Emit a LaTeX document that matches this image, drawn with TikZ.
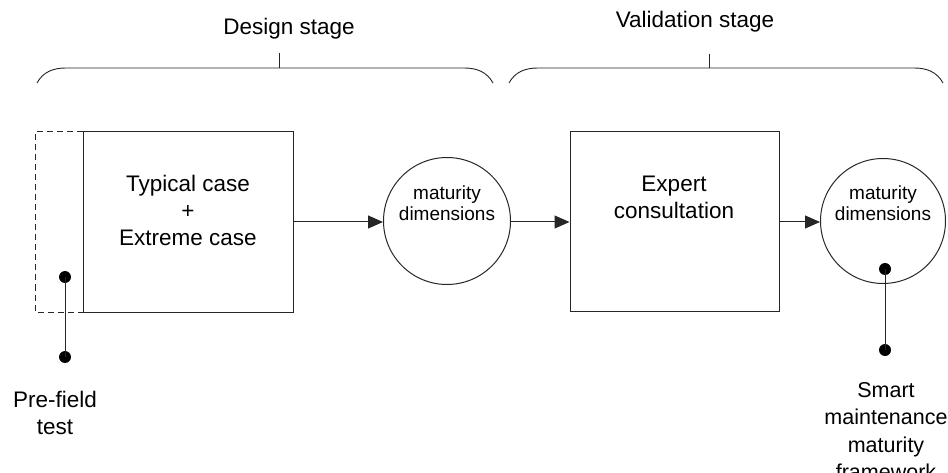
\documentclass[tikz,border=0pt]{standalone}
\usepackage{fontspec}
\setmainfont{Liberation Sans}
\usetikzlibrary{arrows.meta}
\begin{document}
\begin{tikzpicture}[x=1pt,y=-1pt,
  line width=1pt, draw=black!85,
  bigtext/.style={font=\fontsize{22.5}{27}\selectfont, align=center, inner sep=0pt},
  fwtext/.style={font=\fontsize{21.5}{27.3}\selectfont, align=center, inner sep=0pt},
  smalltext/.style={font=\fontsize{19}{21.5}\selectfont, align=center, inner sep=0pt},
  stagebox/.style={draw, rectangle, inner sep=0pt},
  dimcircle/.style={draw, circle, minimum size=127pt, inner sep=0pt},
  flow/.style={-{Triangle[length=15pt,width=13pt]}},
  dot/.style={circle, fill=black, inner sep=0pt, minimum size=12pt},
  brace/.style={line width=0.9pt}
]
\useasboundingbox (0,0) rectangle (948,473);

% boxes
\node[stagebox, minimum width=210pt, minimum height=180pt] (box1) at (188,222) {};
\node[stagebox, minimum width=209pt, minimum height=179pt] (box2) at (674.5,221.5) {};
\node[dimcircle] (c1) at (447,221) {};
\node[dimcircle, minimum size=125pt] (c2) at (883,221) {};

% dashed pre-field box
\draw[dashed, dash pattern=on 6pt off 4pt] (box1.north west) -- ++(-47,0) |- (box1.south west);

% texts
\node[bigtext] (t1) at (188,210) {Typical case\\+\\Extreme case};
\node[bigtext] (t2) at (674,197) {Expert\\consultation};
\node[smalltext] (t3) at (447,203) {maturity\\dimensions};
\node[smalltext] (t4) at (883,203) {maturity\\dimensions};

% arrows
\draw[flow] (box1.east |- 0,222) -- (c1.west |- 0,222);
\draw[flow] (c1.east |- 0,222) -- (box2.west |- 0,222);
\draw[flow] (box2.east |- 0,222) -- (c2.west |- 0,222);

% pre-field test connector
\node[dot] (d1) at (65,277) {};
\node[dot] (d2) at (65,357) {};
\draw (d1.center) -- (d2.center);
\node[bigtext] (pf) at (55,413) {Pre-field\\test};

% framework connector
\node[dot] (d3) at (885,269) {};
\node[dot] (d4) at (885,350) {};
\draw (d3.center) -- (d4.center);
\node[fwtext] (fw) at (886,431) {Smart\\maintenance\\maturity\\framework};

% braces
\draw[brace] (37,83) .. controls (43,72) and (53,68) .. (66,68) -- (464,68) .. controls (477,68) and (487,72) .. (493,83);
\coordinate (b1) at (279,68);
\draw[brace] (b1) -- ++(0,-15);
\node[bigtext] (ds) at (289,29) {Design stage};

\draw[brace] (509,83) .. controls (515,72) and (525,68) .. (538,68) -- (914,68) .. controls (927,68) and (937,72) .. (943,83);
\coordinate (b2) at (709,68);
\draw[brace] (b2) -- ++(0,-14);
\node[bigtext] (vs) at (695,22) {Validation stage};
\end{tikzpicture}
\end{document}
